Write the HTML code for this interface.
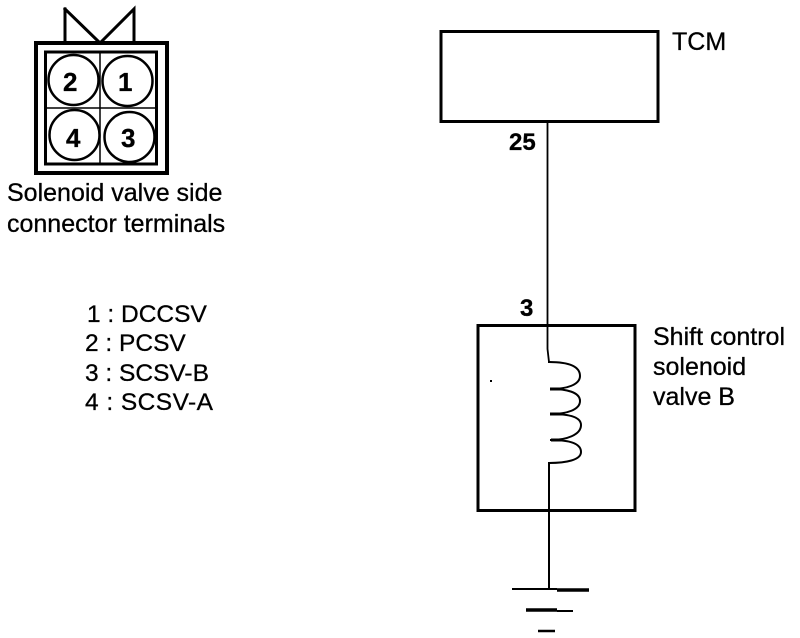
<!DOCTYPE html>
<html><head><meta charset="utf-8"><style>
html,body{margin:0;padding:0;background:#fff}
svg{display:block}
text{font-family:"Liberation Sans",sans-serif;fill:#000;stroke:#000;stroke-width:.3px}
.t{font-size:25px}
.l{font-size:24.500px}
.b{font-size:26px;font-weight:bold}
.n{font-size:24px;font-weight:bold}
</style></head><body>
<svg width="800" height="638" viewBox="0 0 800 638" xmlns="http://www.w3.org/2000/svg">
<g fill="none" stroke="#000" stroke-linecap="square">
<path d="M65 9V41M65 9L100 43L134 9V41" stroke-width="3"/>
<rect x="36" y="43" width="131" height="130" stroke-width="4"/>
<rect x="45.500" y="52" width="111" height="112" stroke-width="3"/>
<path d="M100 52V164M46 108H156" stroke-width="1.500"/>
<circle cx="73.500" cy="80" r="25" stroke-width="2.500"/>
<circle cx="127.500" cy="81" r="25" stroke-width="2.500"/>
<circle cx="74.500" cy="135" r="25" stroke-width="2.500"/>
<circle cx="129.500" cy="137" r="25" stroke-width="2.500"/>
<rect x="441" y="31.500" width="217" height="90" stroke-width="3"/>
<rect x="478" y="325.500" width="157" height="185" stroke-width="3"/>
<path d="M547.500 122V349L549 362" stroke-width="1.800"/>
<path d="M549 362C566 362 580 365 580 376C580 385 566 389 551 389M551 389C566 389 580 392 580 401C580 410 566 414 551 414M551 414C566 414 581 416 581 425C581 435 566 440 551 440M551 440C566 440 581 442 581 452C581 460 566 463 549 463" stroke-width="2"/>
<path d="M550 389H562M550 414H564M551 440H562" stroke-width="3" stroke-linecap="butt"/>
<path d="M549 463V588" stroke-width="2"/>
<path d="M512 589H557" stroke-width="2" stroke-linecap="butt"/>
<path d="M557 590H589" stroke-width="3.500" stroke-linecap="butt"/>
<path d="M526 610H557" stroke-width="3.500" stroke-linecap="butt"/>
<path d="M557 611H573" stroke-width="2" stroke-linecap="butt"/>
<path d="M538 631H555" stroke-width="2.500" stroke-linecap="butt"/>
</g>
<text class="b" x="63" y="91">2</text>
<text class="b" x="118" y="91">1</text>
<text class="b" x="66" y="147">4</text>
<text class="b" x="121" y="147">3</text>
<text class="t" x="7" y="201">Solenoid valve side</text>
<text class="t" x="7" y="232">connector terminals</text>
<text class="l" x="87" y="322">1 : DCCSV</text>
<text class="l" x="85" y="351">2 : PCSV</text>
<text class="l" x="85" y="381">3 : SCSV-B</text>
<text class="l" x="85" y="410" textLength="128">4 : SCSV-A</text>
<text class="t" x="672" y="50">TCM</text>
<text class="n" x="509" y="150">25</text>
<text class="n" x="520" y="316">3</text>
<text class="t" x="653" y="345">Shift control</text>
<text class="t" x="653" y="375">solenoid</text>
<text class="t" x="653" y="405">valve B</text>
<rect x="490" y="380" width="2" height="2" fill="#000"/>
</svg>
</body></html>
